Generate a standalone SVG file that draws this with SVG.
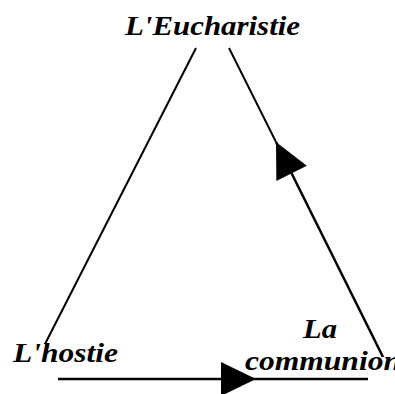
<svg xmlns="http://www.w3.org/2000/svg" width="395" height="394" viewBox="0 0 395 394">
<style>
.lbl{font-family:"Liberation Serif","Times New Roman",serif;font-weight:bold;font-style:italic;font-size:27px;fill:#000}
.ln{fill:none;stroke:#000;stroke-width:2}
.lnb{fill:none;stroke:#000;stroke-width:2.5}
</style>
<defs>
<marker id="ah" markerUnits="userSpaceOnUse" markerWidth="36" markerHeight="34" refX="35" refY="17" orient="auto" overflow="visible">
<path d="M0,0 L35,17 L0,34 Z" fill="#000"/>
</marker>
</defs>
<rect width="395" height="394" fill="#fff"/>
<g id="connectors">
<path class="ln" d="M196,48 L45,344"/>
<path class="ln" d="M229,48 L276,142"/>
<path class="lnb" d="M383,357 L276,142" marker-end="url(#ah)"/>
<path class="lnb" d="M58,379 L256,379" marker-end="url(#ah)"/>
<path class="lnb" d="M256,379 L368,379"/>
</g>
<g id="eucharistie"><text class="lbl" x="125" y="35" textLength="175" lengthAdjust="spacingAndGlyphs">L'Eucharistie</text></g>
<g id="hostie"><text class="lbl" x="13" y="362" textLength="105" lengthAdjust="spacingAndGlyphs">L'hostie</text></g>
<g id="communion"><text class="lbl" x="303" y="338" textLength="34" lengthAdjust="spacingAndGlyphs">La</text><text class="lbl" x="245" y="370" textLength="156" lengthAdjust="spacingAndGlyphs">communion</text></g>
</svg>
